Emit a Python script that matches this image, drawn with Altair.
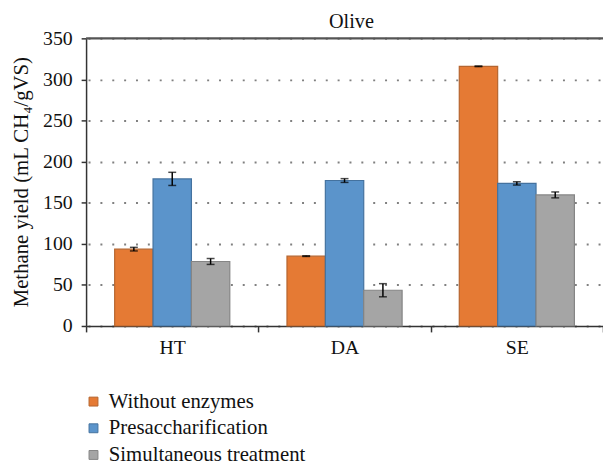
import altair as alt
import pandas as pd

categories = ["HT", "DA", "SE"]
treatments = ["Without enzymes", "Presaccharification", "Simultaneous treatment"]
without_enzymes = [93.5, 85.0, 316.0]
presaccharification = [179.0, 177.0, 173.5]
simultaneous = [78.5, 43.5, 159.5]
err_without = [2.2, 0.4, 0.4]
err_presac = [8.0, 2.3, 2.0]
err_simult = [3.6, 8.0, 3.6]

fills = ["#E57A34", "#5B94CB", "#A5A5A5"]
strokes = ["#B5652F", "#44729F", "#858585"]
FONT = "Liberation Serif"

rows = []
for series, vals, errs in [
    (treatments[0], without_enzymes, err_without),
    (treatments[1], presaccharification, err_presac),
    (treatments[2], simultaneous, err_simult),
]:
    for c, v, e in zip(categories, vals, errs):
        rows.append({"category": c, "treatment": series, "value": v,
                     "lower": v - e, "upper": v + e})
df = pd.DataFrame(rows)

x = alt.X("category:N", sort=categories,
          scale=alt.Scale(paddingInner=0, paddingOuter=0),
          axis=alt.Axis(title=None, labelAngle=0, tickBand="extent", tickSize=6,
                        labelPadding=6, labelFont=FONT, labelFontSize=20,
                        labelColor="#111", domainColor="#333", domainWidth=1.5,
                        tickColor="#333", tickWidth=1.5, grid=False))
xo = alt.XOffset("treatment:N", sort=treatments,
                 scale=alt.Scale(paddingInner=0, paddingOuter=0.745))

leg = alt.Legend(title=None, orient="none", legendX=-3, legendY=357,
                 symbolType="square", symbolSize=81, symbolStrokeWidth=1,
                 labelFont=FONT, labelFontSize=21, labelColor="#111",
                 labelLimit=400, labelOffset=5, rowPadding=5, padding=0)

base = alt.Chart(df)

bars = base.mark_bar(strokeWidth=1.2).encode(
    x=x,
    xOffset=xo,
    y=alt.Y("value:Q", scale=alt.Scale(domain=[0, 350], nice=False),
            axis=alt.Axis(values=[0, 50, 100, 150, 200, 250, 300, 350],
                          title="Methane yield (mL CH\u2084/gVS)",
                          titleFont=FONT, titleFontSize=21, titleFontWeight="normal",
                          titleColor="#111", titleAngle=-90, titleX=-65, titleY=145,
                          titleAlign="center", titleBaseline="middle",
                          labelFont=FONT, labelFontSize=20, labelColor="#111",
                          labelPadding=9, tickSize=5, tickColor="#333", tickWidth=1.5,
                          domainColor="#333", domainWidth=1.5,
                          grid=True, gridColor="#808080", gridWidth=2,
                          gridDash=[2, 10], gridDashOffset=10)),
    fill=alt.Fill("treatment:N", sort=treatments,
                  scale=alt.Scale(domain=treatments, range=fills), legend=leg),
    stroke=alt.Stroke("treatment:N", sort=treatments,
                      scale=alt.Scale(domain=treatments, range=strokes), legend=leg),
)

whisk = base.mark_rule(color="black", strokeWidth=1.5).encode(
    x=x, xOffset=xo, y="lower:Q", y2="upper:Q")
cap_lo = base.mark_tick(color="black", thickness=1.5, size=8).encode(
    x=x, xOffset=xo, y="lower:Q")
cap_hi = base.mark_tick(color="black", thickness=1.5, size=8).encode(
    x=x, xOffset=xo, y="upper:Q")

top_border = alt.Chart(pd.DataFrame({"v": [350]})).mark_rule(
    color="#555555", strokeWidth=2.5).encode(y=alt.Y("v:Q"))

chart = alt.layer(bars, whisk, cap_lo, cap_hi, top_border).properties(
    width=523, height=291,
    title=alt.TitleParams("Olive", font=FONT, fontSize=20.5, fontWeight="normal",
                          color="#111", anchor="middle", frame="group",
                          baseline="alphabetic", offset=-20, dx=7),
    autosize=alt.AutoSizeParams(type="none"),
    padding={"left": 79, "top": 28, "right": 0, "bottom": 143},
).configure_view(stroke=None)

chart.save("out.html", embed_options={"renderer": "svg", "actions": False})
